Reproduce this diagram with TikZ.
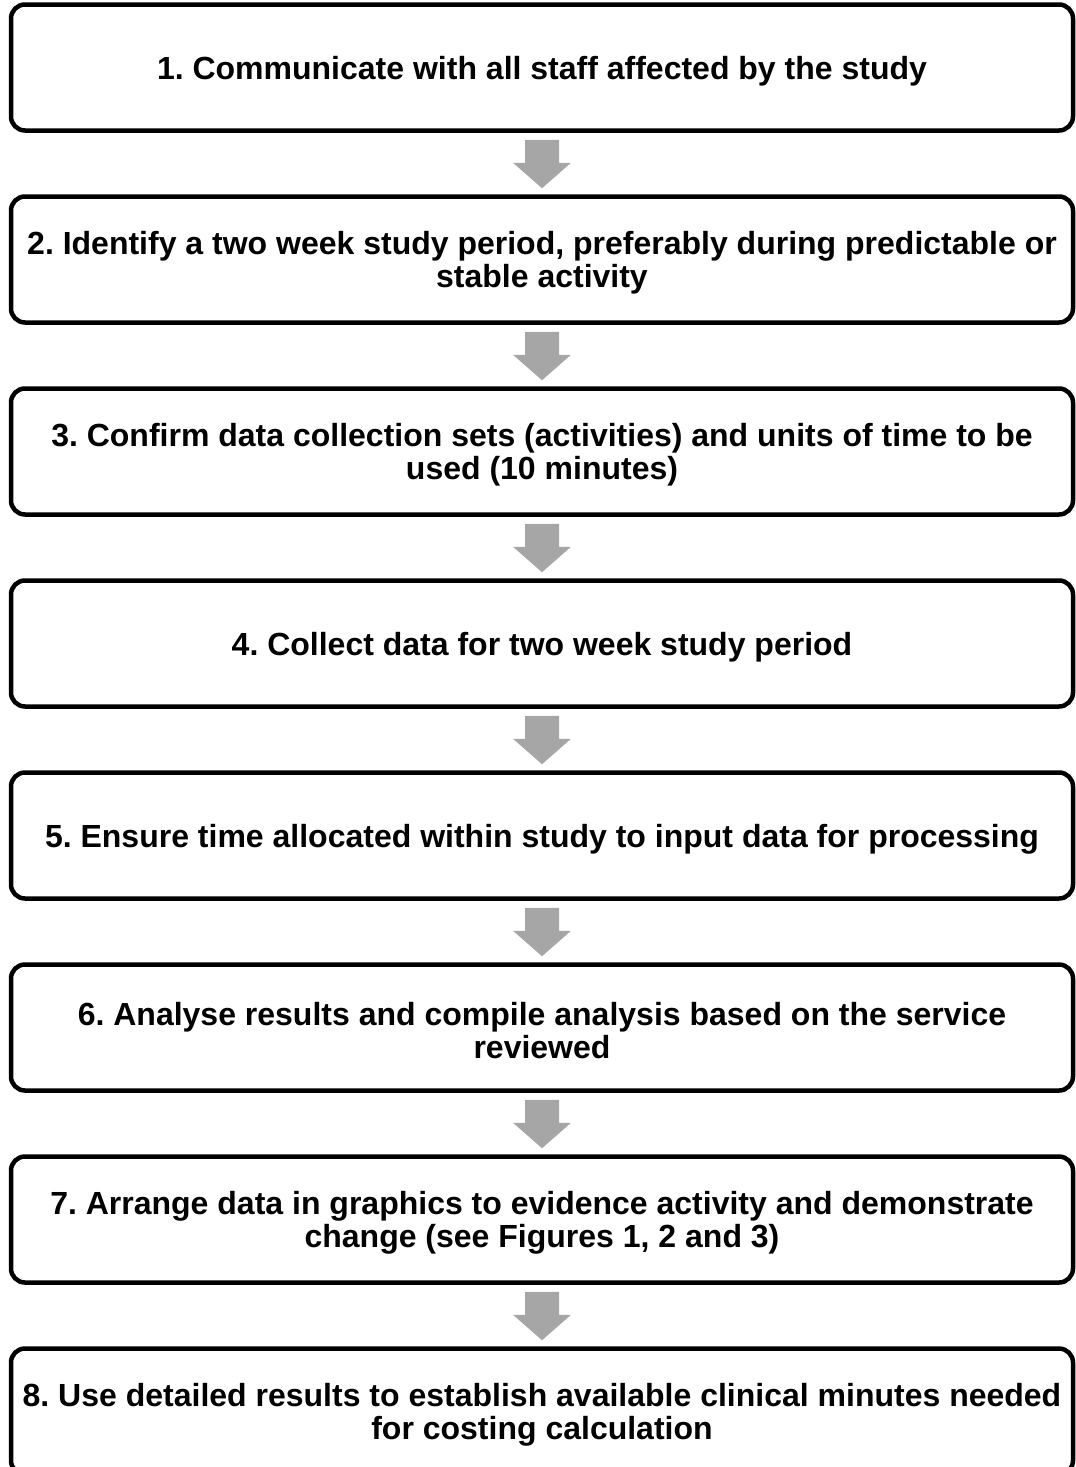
\documentclass[tikz,border=0pt]{standalone}
\usepackage{fontspec}
\setmainfont{Liberation Sans}
\frenchspacing
\begin{document}
\begin{tikzpicture}[x=1pt,y=-1pt,
  stepbox/.style={draw=black, line width=4.5pt, rounded corners=14pt, fill=white,
    minimum width=1062pt, minimum height=126pt, inner sep=0pt},
  steptext/.style={inner sep=0pt, align=center, yshift=-3.5pt,
    font=\fontsize{32}{33}\selectfont\bfseries},
  flowarrow/.style={fill=black!35, draw=none}]
\useasboundingbox (0,0) rectangle (1076,1467);
\node[stepbox] (b1) at (542,67.5) {};
\node[stepbox] (b2) at (542,259.5) {};
\node[stepbox] (b3) at (542,451.5) {};
\node[stepbox] (b4) at (542,643.5) {};
\node[stepbox] (b5) at (542,835.5) {};
\node[stepbox] (b6) at (542,1027.5) {};
\node[stepbox] (b7) at (542,1219.5) {};
\node[stepbox] (b8) at (542,1411.5) {};
\node[steptext] (t1) at (b1.center) {1. Communicate with all staff affected by the study};
\node[steptext] (t2) at (b2.center) {2. Identify a two week study period, preferably during predictable or\\stable activity};
\node[steptext] (t3) at (b3.center) {3. Confirm data collection sets (activities) and units of time to be\\used (10 minutes)};
\node[steptext] (t4) at (b4.center) {4. Collect data for two week study period};
\node[steptext] (t5) at (b5.center) {5. Ensure time allocated within study to input data for processing};
\node[steptext] (t6) at (b6.center) {6. Analyse results and compile analysis based on the service\\reviewed};
\node[steptext] (t7) at (b7.center) {7. Arrange data in graphics to evidence activity and demonstrate\\change (see Figures 1, 2 and 3)};
\node[steptext] (t8) at (b8.center) {8. Use detailed results to establish available clinical minutes needed\\for costing calculation};
\foreach \a/\b in {b1/b2,b2/b3,b3/b4,b4/b5,b5/b6,b6/b7,b7/b8}{
  \fill[flowarrow] ([xshift=-17pt,yshift=-7pt]\a.south) -- ([xshift=17pt,yshift=-7pt]\a.south)
    -- ([xshift=17pt,yshift=-30pt]\a.south) -- ([xshift=29pt,yshift=-30pt]\a.south)
    -- ([yshift=6pt]\b.north) -- ([xshift=-29pt,yshift=-30pt]\a.south)
    -- ([xshift=-17pt,yshift=-30pt]\a.south) -- cycle;
}
\end{tikzpicture}
\end{document}
